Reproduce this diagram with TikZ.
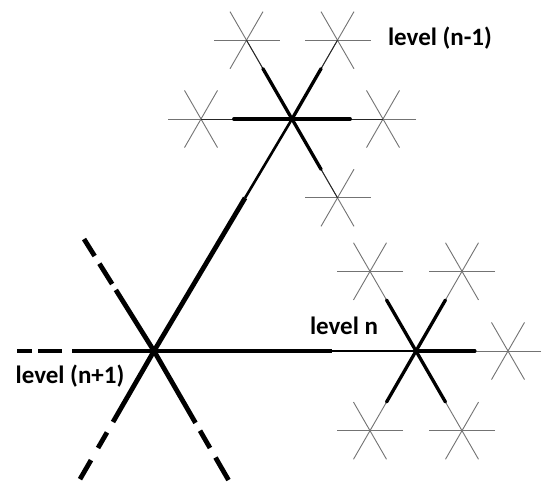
\documentclass[tikz,border=0pt]{standalone}
\usepackage{fontspec}
\setmainfont{Carlito}
\usetikzlibrary{calc}
\begin{document}
\begin{tikzpicture}[x=1pt,y=-1pt,
  heavy/.style={line width=4.8pt, line cap=butt},
  medium/.style={line width=2.6pt, line cap=butt},
  armline/.style={line width=3.3pt, line cap=round},
  twig/.style={line width=0.9pt, draw=black!55},
  lbl/.style={font=\bfseries\fontsize{25}{25}\selectfont, inner sep=0pt}]
\path[use as bounding box, fill=white] (0,0) rectangle (542,485);
\coordinate (C0) at (154,351);
\coordinate (C1) at (292,119);
\coordinate (C2) at (416,351);
% level (n-1) star
\foreach \a/\n in {0/a,-60/b,-120/c,180/d,60/e}{
  \coordinate (S1\n) at ($(C1)+(\a:91)$);
  \coordinate (T1\n) at ($(C1)!0.64!(S1\n)$);
  \foreach \b in {0,60,120}
    \draw[twig] ($(S1\n)+(\b:33)$) -- ($(S1\n)+(\b+180:33)$);
  \draw[line width=0.9pt, draw=black!85] (T1\n) -- (S1\n);
  \draw[armline] (C1) -- (T1\n);
}
% level n star
\foreach \a/\n in {0/a,-60/b,-120/c,120/d,60/e}{
  \coordinate (S2\n) at ($(C2)+(\a:92)$);
  \coordinate (T2\n) at ($(C2)!0.64!(S2\n)$);
  \foreach \b in {0,60,120}
    \draw[twig] ($(S2\n)+(\b:33)$) -- ($(S2\n)+(\b+180:33)$);
  \draw[armline] (C2) -- (T2\n);
}
% main connectors
\coordinate (M1) at ($(C0)!0.66!(C1)$);
\coordinate (M2) at ($(C0)!0.68!(C2)$);
\draw[medium] (M1) -- (C1);
\draw[medium] (M2) -- (C2);
\draw[heavy] (C0) -- (M1);
\draw[heavy] (C0) -- (M2);
% level (n+1) dashed arms
\foreach \a/\s/\da/\db/\ea/\eb in {180/82/92/116/122/137, -122/72/79/103/112/132, 120/82/94/112/126/148, 60/83/92/112/123/149}{
  \draw[heavy] (C0) -- ($(C0)+(\a:\s)$);
  \draw[heavy] ($(C0)+(\a:\da)$) -- ($(C0)+(\a:\db)$);
  \draw[heavy] ($(C0)+(\a:\ea)$) -- ($(C0)+(\a:\eb)$);
}
\node[lbl] (L1) at (440,38) {level (n-1)};
\node[lbl] (L0) at (70,376) {level (n+1)};
\node[lbl] (L2) at (344,326) {level n};
\end{tikzpicture}
\end{document}
